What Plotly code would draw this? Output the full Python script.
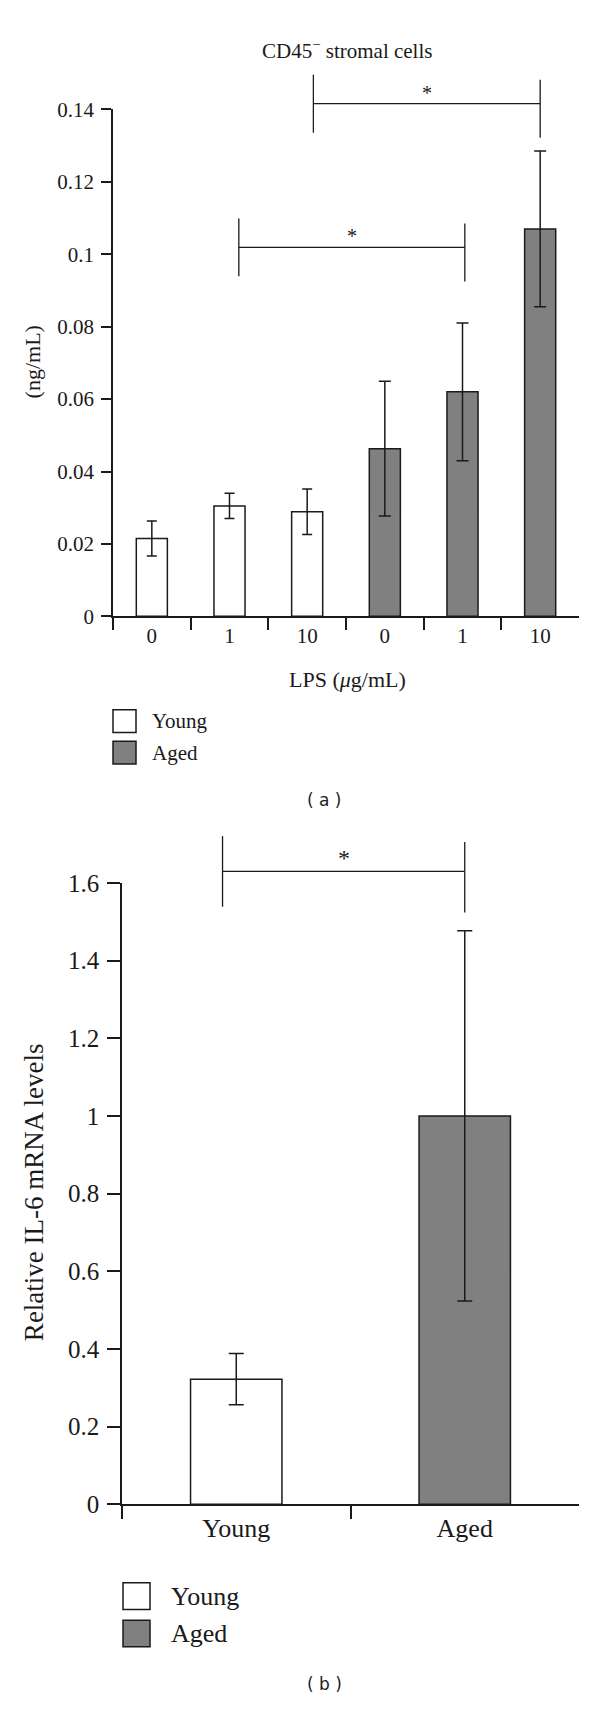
import plotly.graph_objects as go

# panel (a): CD45- stromal cells, IL-6 by LPS dose
lps_doses = ["0", "1", "10"]
young_cats = ["Y0", "Y1", "Y10"]
aged_cats = ["A0", "A1", "A10"]
young_a = [0.0215, 0.0305, 0.0289]
young_a_err = [0.0048, 0.0035, 0.0063]
aged_a = [0.0463, 0.0620, 0.1070]
aged_a_err = [0.0186, 0.0190, 0.0215]
yticks_a = [0, 0.02, 0.04, 0.06, 0.08, 0.1, 0.12, 0.14]
ytext_a = ["0", "0.02", "0.04", "0.06", "0.08", "0.1", "0.12", "0.14"]

# panel (b): relative IL-6 mRNA levels
groups_b = ["Young", "Aged"]
mrna_b = [0.322, 1.0]
mrna_b_err = [0.066, 0.477]
yticks_b = [0, 0.2, 0.4, 0.6, 0.8, 1.0, 1.2, 1.4, 1.6]
ytext_b = ["0", "0.2", "0.4", "0.6", "0.8", "1", "1.2", "1.4", "1.6"]

series_names = ["Young", "Aged"]
series_colors = ["white", "#808080"]

# significance brackets: (x left, x right, y of bar, half height of ticks, right drop)
brackets_a = [(1.12, 4.03, 0.1019, 0.008, 0.0014),
              (2.08, 5.00, 0.1416, 0.008, 0.0014)]
brackets_b = [(-0.06, 1.00, 1.630, 0.091, 0.015)]

W, H = 600, 1714
SERIF = "Liberation Serif"
INK = "#1a1a1a"


def py(v):
    return 1 - v / H


def px(v):
    return v / W


fig = go.Figure()

bar_line = dict(color=INK, width=1.5)
err = dict(type="data", symmetric=True, color=INK, thickness=1.5)

fig.add_trace(go.Bar(x=young_cats, y=young_a, width=0.4,
                     marker=dict(color=series_colors[0], line=bar_line),
                     error_y=dict(array=young_a_err, width=5, **err),
                     xaxis="x", yaxis="y", showlegend=False))
fig.add_trace(go.Bar(x=aged_cats, y=aged_a, width=0.4,
                     marker=dict(color=series_colors[1], line=bar_line),
                     error_y=dict(array=aged_a_err, width=6, **err),
                     xaxis="x", yaxis="y", showlegend=False))

fig.add_trace(go.Bar(x=[groups_b[0]], y=[mrna_b[0]], width=0.4,
                     marker=dict(color=series_colors[0], line=bar_line),
                     error_y=dict(array=[mrna_b_err[0]], width=7.5, **err),
                     xaxis="x2", yaxis="y2", showlegend=False))
fig.add_trace(go.Bar(x=[groups_b[1]], y=[mrna_b[1]], width=0.4,
                     marker=dict(color=series_colors[1], line=bar_line),
                     error_y=dict(array=[mrna_b_err[1]], width=7.5, **err),
                     xaxis="x2", yaxis="y2", showlegend=False))

axis_common = dict(showline=True, linecolor=INK, linewidth=1.6, ticks="outside",
                   tickcolor=INK, tickwidth=1.6, showgrid=False, zeroline=False,
                   fixedrange=True)


def serif(size):
    return dict(family=SERIF, size=size, color=INK)


fig.update_layout(
    width=W, height=H,
    margin=dict(l=0, r=0, t=0, b=0),
    paper_bgcolor="white", plot_bgcolor="white",
    barmode="overlay",
    showlegend=False,
    font=serif(20),
    xaxis=dict(domain=[px(113), px(579)], anchor="y", type="category",
               categoryorder="array", categoryarray=young_cats + aged_cats,
               tickmode="array", tickvals=young_cats + aged_cats,
               ticktext=lps_doses + lps_doses, tickson="boundaries",
               ticklen=12, tickfont=serif(21), **axis_common),
    yaxis=dict(domain=[py(613), py(98)], anchor="x", range=[0, 0.14],
               tickmode="array", tickvals=yticks_a, ticktext=ytext_a,
               ticklen=10, tickfont=serif(21), ticklabelstandoff=3, **axis_common),
    xaxis2=dict(domain=[px(122), px(579)], anchor="y2", type="category",
                categoryorder="array", categoryarray=groups_b,
                tickson="boundaries", ticklen=13, tickfont=serif(26),
                **axis_common),
    yaxis2=dict(domain=[py(1515), py(884)], anchor="x2", range=[0, 1.6],
                tickmode="array", tickvals=yticks_b, ticktext=ytext_b,
                ticklen=13, tickfont=serif(25), ticklabelstandoff=3, **axis_common),
)


def note(x, y, text, font, **kw):
    fig.add_annotation(xref="paper", yref="paper", x=px(x), y=py(y), text=text,
                       showarrow=False, xanchor=kw.pop("xanchor", "center"),
                       yanchor="middle", font=font, **kw)


def add_bracket(xref, yref, ymax, x0, x1, yl, hh, drop, star_size):
    line = dict(color=INK, width=1.3)
    f = lambda v: v / ymax
    fig.add_shape(type="line", xref=xref, yref=yref, x0=x0, x1=x1,
                  y0=f(yl), y1=f(yl), line=line)
    fig.add_shape(type="line", xref=xref, yref=yref, x0=x0, x1=x0,
                  y0=f(yl - hh), y1=f(yl + hh), line=line)
    fig.add_shape(type="line", xref=xref, yref=yref, x0=x1, x1=x1,
                  y0=f(yl - hh - drop), y1=f(yl + hh - drop), line=line)
    fig.add_annotation(xref=xref, yref=yref, x=(x0 + x1) / 2, y=f(yl),
                       text="*", showarrow=False, xanchor="center",
                       yanchor="bottom", yshift=-2, font=serif(star_size))


for b in brackets_a:
    add_bracket("x", "y domain", 0.14, *b, 20)
for b in brackets_b:
    add_bracket("x2", "y2 domain", 1.6, *b, 24)

# titles and axis labels
note(347, 37, "CD45<sup>−</sup> stromal cells", serif(21))
note(347, 677, "LPS (<i>μ</i>g/mL)", serif(22))
note(32, 355, "(ng/mL)", serif(22), textangle=-90)
note(34, 1198, "Relative IL-6 mRNA levels", serif(27), textangle=-90)

# panel labels
for label, ypos in [("( a )", 800), ("( b )", 1698)]:
    note(324, ypos, label, dict(family="DejaVu Sans", size=17, color="#222"))

# hand-built legends (box size follows each panel)
legends = [dict(x=113, y=[708, 740], box=23, text_x=150, size=21),
           dict(x=123, y=[1595, 1633], box=27, text_x=169, size=26)]
for lg in legends:
    for name, color, ytop in zip(series_names, series_colors, lg["y"]):
        fig.add_shape(type="rect", xref="paper", yref="paper",
                      x0=px(lg["x"]), x1=px(lg["x"] + lg["box"]),
                      y0=py(ytop + lg["box"]), y1=py(ytop),
                      fillcolor=color, line=dict(color=INK, width=1.5))
        note(lg["text_x"], ytop + lg["box"] / 2, name, serif(lg["size"]),
             xanchor="left")

fig.write_html("out.html", config={"displayModeBar": False},
               post_script="document.body.style.margin='0';")
